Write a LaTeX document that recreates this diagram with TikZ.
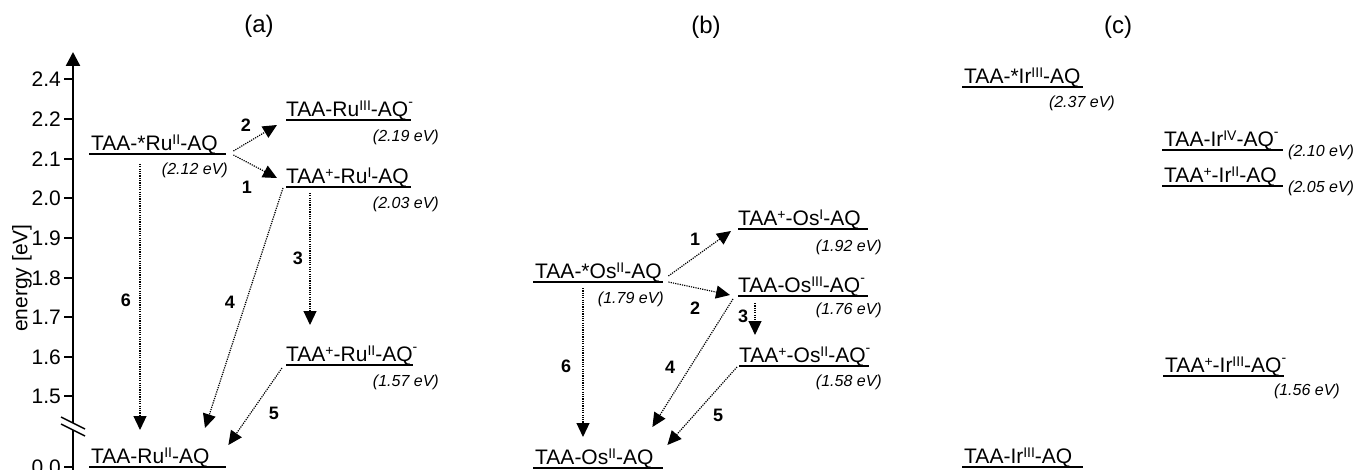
\documentclass[tikz,border=0pt]{standalone}
\usepackage{fontspec}
\setmainfont{Liberation Sans}
\usetikzlibrary{arrows.meta}
\newcommand{\sps}[1]{\raisebox{6.5pt}{\fontsize{14}{14}\selectfont #1}}
\newcommand{\spm}{\raisebox{10pt}{\fontsize{14}{14}\selectfont -}}
\newcommand{\lv}[2]{\makebox[#1pt][l]{#2}}
\begin{document}
\begin{tikzpicture}[x=1pt,y=-1pt,
  lvl/.style={anchor=south west, inner xsep=0pt, inner ysep=3pt, text depth=0pt,
    font=\fontsize{21}{24}\selectfont},
  lvline/.style={line width=2.4pt},
  trans/.style={line width=1.2pt, dash pattern=on 1.2pt off 1.1pt,
    -{Triangle[length=14pt,width=13pt]}},
  num/.style={font=\bfseries\fontsize{18}{18}\selectfont, inner sep=0pt},
  ev/.style={font=\itshape\fontsize{16}{16}\selectfont, inner sep=0pt},
  panel/.style={font=\fontsize{24}{24}\selectfont, inner sep=0pt},
  tick/.style={font=\fontsize{21}{21}\selectfont, inner sep=0pt, anchor=east},
  axis/.style={line width=2.4pt}]
\useasboundingbox (0,0) rectangle (1356,470);

% panel labels
\node[panel] (pa) at (259,26) {(a)};
\node[panel] (pb) at (706,27) {(b)};
\node[panel] (pc) at (1118,27) {(c)};

% axis
\coordinate (axbot) at (73,472);
\coordinate (axtop) at (73,52);
\draw[axis, -{Triangle[length=14pt,width=14pt]}] (axbot) -- (axtop);
\foreach \lab/\yy/\nm in {2.4/79/t24, 2.2/119/t22, 2.1/159/t21, 2.0/198/t20, 1.9/238/t19,
  1.8/278/t18, 1.7/317/t17, 1.6/357/t16, 1.5/396/t15, 0.0/467/t00}{
  \coordinate (\nm a) at (64,\yy);
  \coordinate (\nm b) at (73,\yy);
  \draw[line width=2pt] (\nm a) -- (\nm b);
  \node[tick] (\nm) at (61,\yy) {\lab};
}
% axis break
\coordinate (br1) at (61,417);
\coordinate (br2) at (85,429);
\coordinate (br3) at (85,436);
\coordinate (br4) at (61,424);
\fill[white] (br1) -- (br2) -- (br3) -- (br4) -- cycle;
\draw[line width=1.5pt] (br1) -- (br2);
\draw[line width=1.5pt] (br4) -- (br3);
\node[font=\fontsize{21}{21}\selectfont, rotate=90, inner sep=0pt] (ylab) at (22,278) {energy [eV]};

% ---------- (a) ----------
\node[lvl] (a0) at (89,154) {\lv{137}{\hspace*{2pt}TAA-*Ru\sps{II}-AQ}};
\node[lvl] (a2) at (286,120) {\lv{125}{TAA-Ru\sps{III}-AQ\spm}};
\node[lvl] (a1) at (286,187) {\lv{125}{TAA\sps{+}-Ru\sps{I}-AQ}};
\node[lvl] (a3) at (286,365) {\lv{127}{TAA\sps{+}-Ru\sps{II}-AQ\spm}};
\node[lvl] (ag) at (89,467) {\lv{137}{\hspace*{2pt}TAA-Ru\sps{II}-AQ}};
\foreach \n in {a0,a2,a1,a3,ag}{\draw[lvline] (\n.south west) -- (\n.south east);}
\node[ev, anchor=east] (ea0) at (228,170) {(2.12 eV)};
\node[ev, anchor=east] (ea2) at (439,137) {(2.19 eV)};
\node[ev, anchor=east] (ea1) at (439,204) {(2.03 eV)};
\node[ev, anchor=east] (ea3) at (439,382) {(1.57 eV)};

\draw[trans] ([shift={(7,-3)}]a0.south east) -- ([shift={(-9,5)}]a2.south west);
\draw[trans] ([shift={(7,1)}]a0.south east) -- ([shift={(-9,-9)}]a1.south west);
\draw[trans] ([shift={(51,10)}]a0.south west) -- ([shift={(51,-37)}]ag.south west);
\draw[trans] ([shift={(-3,1)}]a1.south west) -- ([shift={(116,-39)}]ag.south west);
\draw[trans] ([shift={(24,6)}]a1.south west) -- ([shift={(24,-40)}]a3.south west);
\draw[trans] ([shift={(-4,3)}]a3.south west) -- ([shift={(2,-22)}]ag.south east);
\node[num] (na2) at (246,125) {2};
\node[num] (na1) at (247,187) {1};
\node[num] (na6) at (126,300) {6};
\node[num] (na4) at (230,302) {4};
\node[num] (na3) at (298,258) {3};
\node[num] (na5) at (274,413) {5};

% ---------- (b) ----------
\node[lvl] (b0) at (533,282) {\lv{130}{\hspace*{2pt}TAA-*Os\sps{II}-AQ}};
\node[lvl] (b1) at (738,229) {\lv{130}{TAA\sps{+}-Os\sps{I}-AQ}};
\node[lvl] (b2) at (738,296) {\lv{130}{TAA-Os\sps{III}-AQ\spm}};
\node[lvl] (b3) at (739,366) {\lv{130}{TAA\sps{+}-Os\sps{II}-AQ\spm}};
\node[lvl] (bg) at (533,468) {\lv{130}{\hspace*{2pt}TAA-Os\sps{II}-AQ}};
\foreach \n in {b0,b1,b2,b3,bg}{\draw[lvline] (\n.south west) -- (\n.south east);}
\node[ev, anchor=east] (eb0) at (664,299) {(1.79 eV)};
\node[ev, anchor=east] (eb1) at (882,247) {(1.92 eV)};
\node[ev, anchor=east] (eb2) at (882,310) {(1.76 eV)};
\node[ev, anchor=east] (eb3) at (882,382) {(1.58 eV)};

\draw[trans] ([shift={(5,-6)}]b0.south east) -- ([shift={(-7,2)}]b1.south west);
\draw[trans] ([shift={(5,0)}]b0.south east) -- ([shift={(-8,-1)}]b2.south west);
\draw[trans] ([shift={(50,6)}]b0.south west) -- ([shift={(50,-31)}]bg.south west);
\draw[trans] ([shift={(-5,3)}]b2.south west) -- ([shift={(-11,-41)}]bg.south east);
\draw[trans] ([shift={(17,7)}]b2.south west) -- ([shift={(16,-31)}]b3.south west);
\draw[trans] ([shift={(-2,1)}]b3.south west) -- ([shift={(4,-23)}]bg.south east);
\node[num] (nb1) at (695,239) {1};
\node[num] (nb2) at (695,308) {2};
\node[num] (nb6) at (566,366) {6};
\node[num] (nb4) at (670,367) {4};
\node[num] (nb3) at (743,316) {3};
\node[num] (nb5) at (718,415) {5};

% ---------- (c) ----------
\node[lvl] (c0) at (962,87) {\lv{121}{\hspace*{2pt}TAA-*Ir\sps{III}-AQ}};
\node[lvl] (c1) at (1162,150) {\lv{121}{\hspace*{2pt}TAA-Ir\sps{IV}-AQ\spm}};
\node[lvl] (c2) at (1162,186) {\lv{121}{\hspace*{2pt}TAA\sps{+}-Ir\sps{II}-AQ}};
\node[lvl] (c3) at (1163,376) {\lv{121}{\hspace*{2pt}TAA\sps{+}-Ir\sps{III}-AQ\spm}};
\node[lvl] (cg) at (962,467) {\lv{121}{\hspace*{2pt}TAA-Ir\sps{III}-AQ}};
\foreach \n in {c0,c1,c2,c3,cg}{\draw[lvline] (\n.south west) -- (\n.south east);}
\node[ev, anchor=east] (ec0) at (1115,103) {(2.37 eV)};
\node[ev, anchor=west] (ec1) at (1288,152) {(2.10 eV)};
\node[ev, anchor=west] (ec2) at (1288,188) {(2.05 eV)};
\node[ev, anchor=east] (ec3) at (1340,391) {(1.56 eV)};
\end{tikzpicture}
\end{document}
